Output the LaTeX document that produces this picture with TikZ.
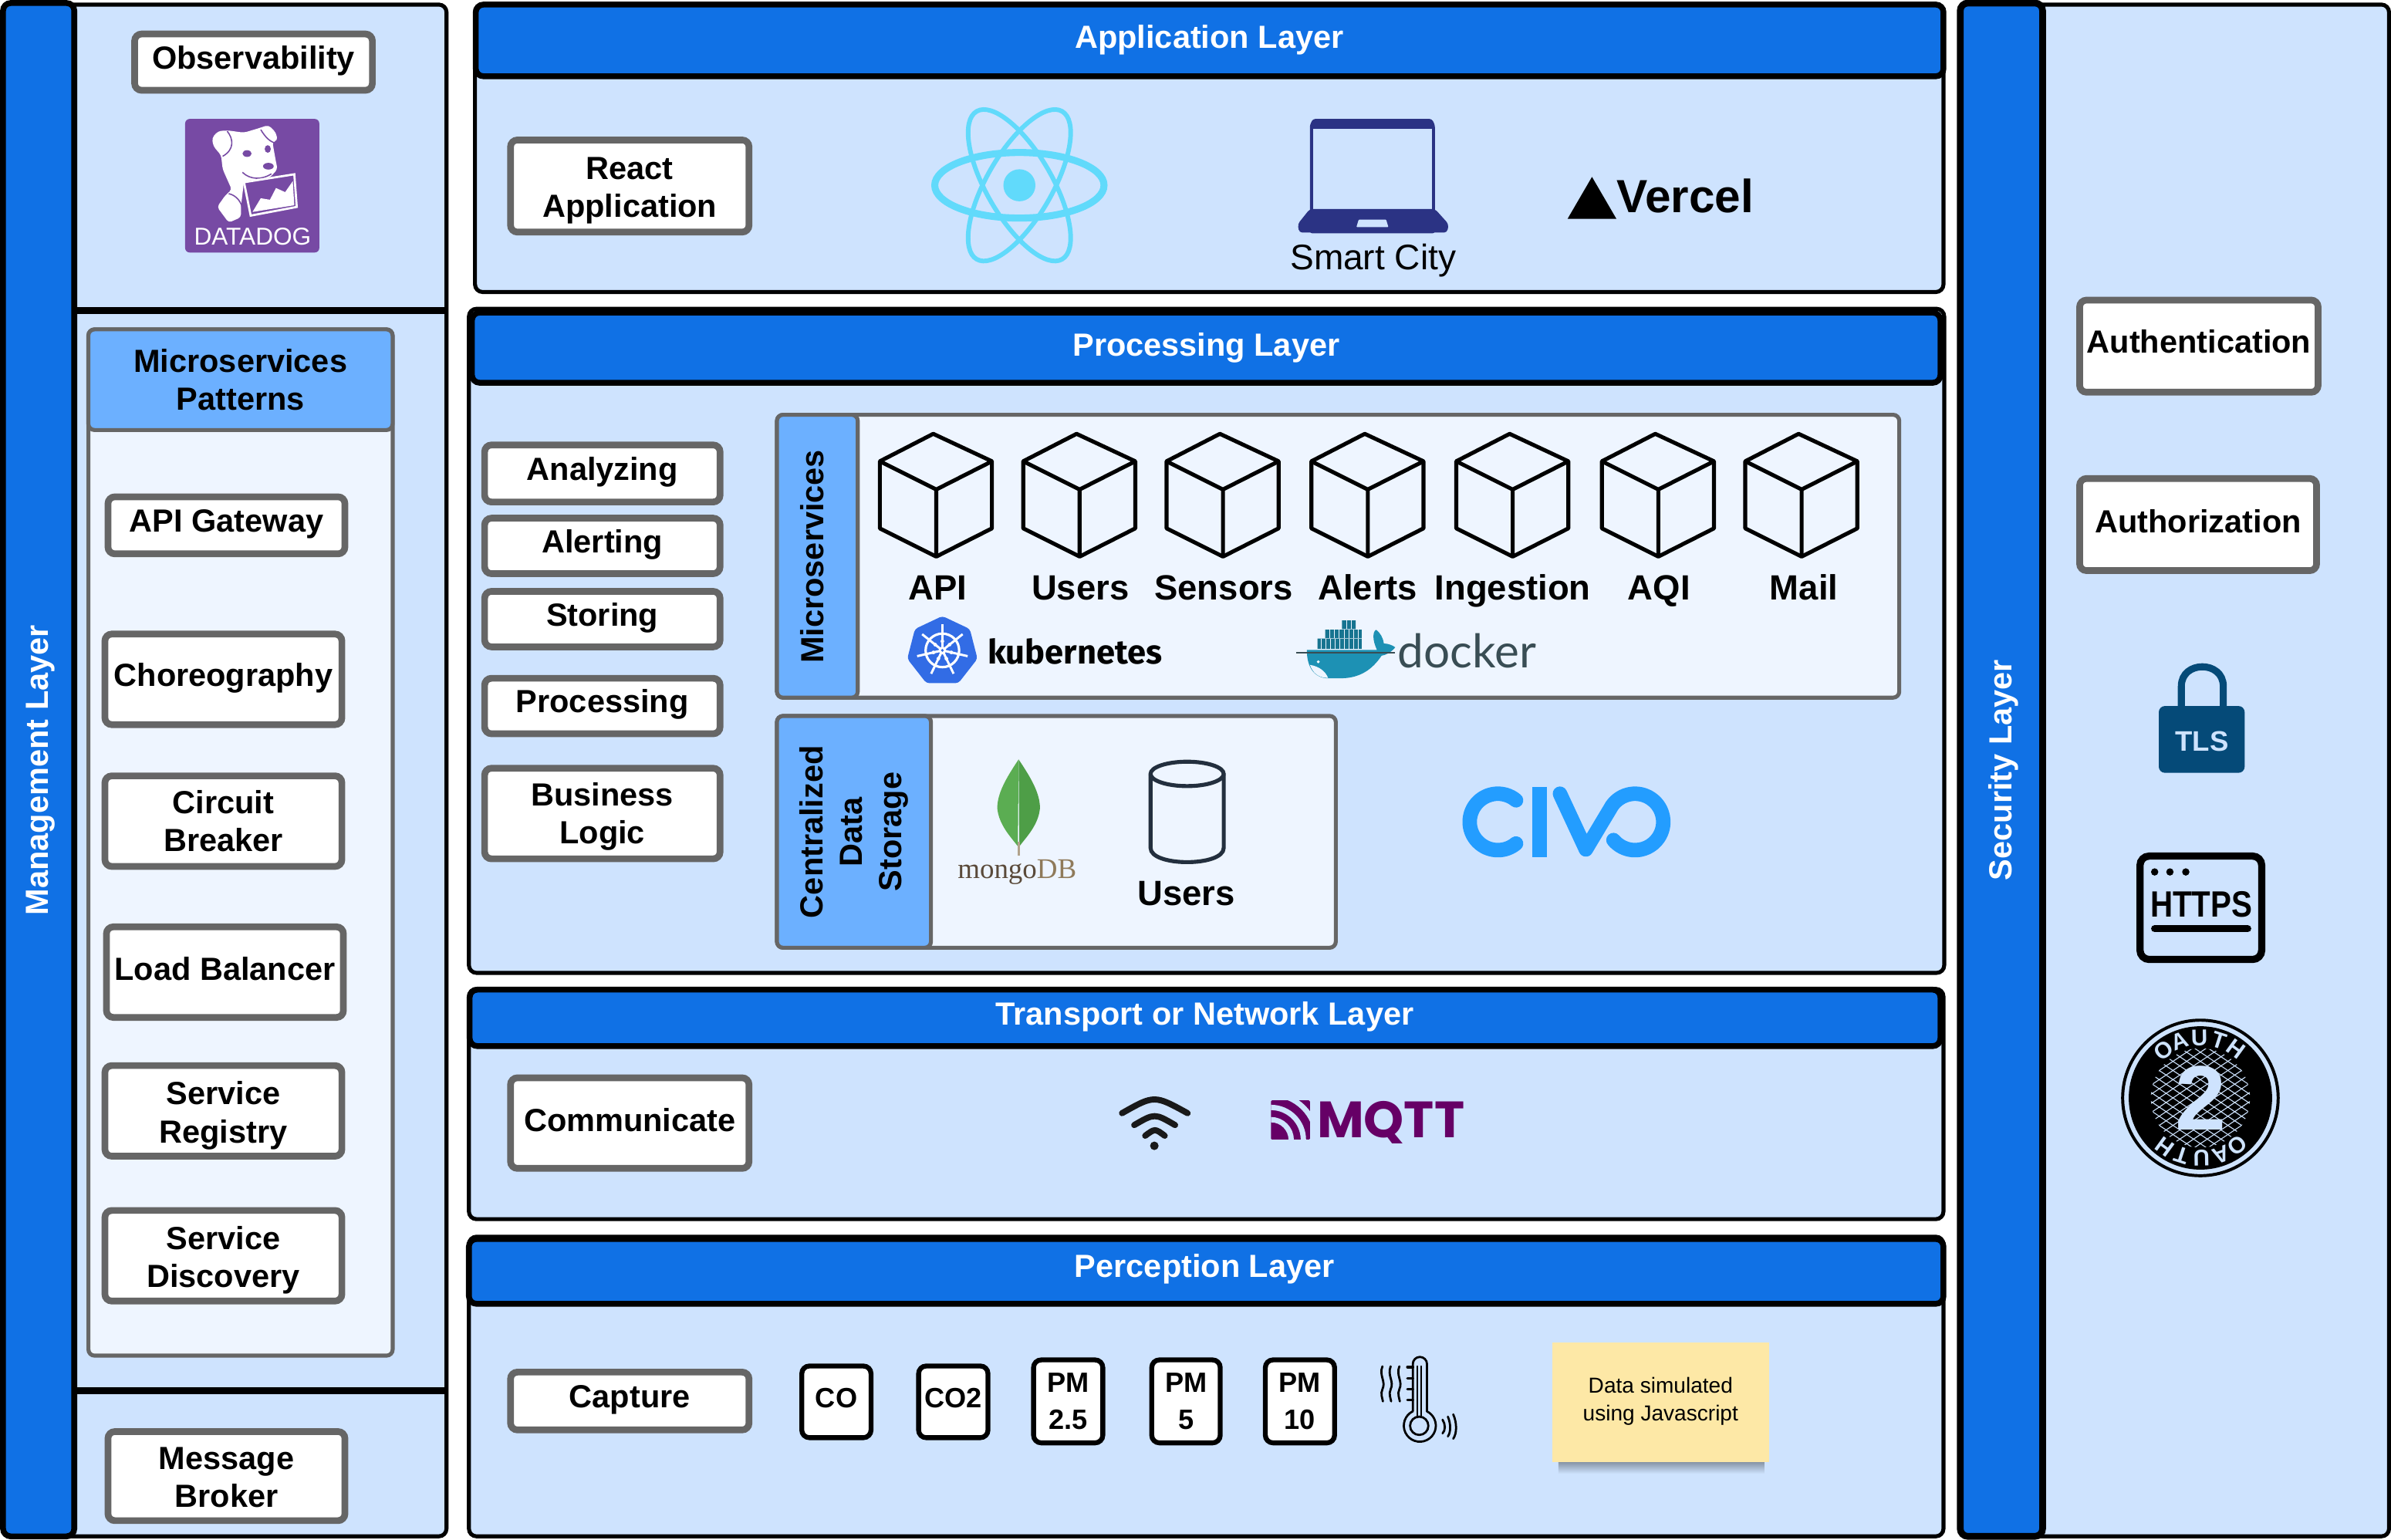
\documentclass[tikz,border=0pt]{standalone}
\usepackage{graphicx}
\usepackage{fontspec}
\setmainfont{Liberation Sans}
\newfontfamily\serifnm{Liberation Serif}
\newfontfamily\firanm{Fira Sans}
\newfontfamily\latonm{Lato}
\newfontfamily\popnm{Poppins}
\usetikzlibrary{calc}
\definecolor{bgblue}{HTML}{CEE3FE}
\definecolor{layerblue}{HTML}{1071E5}
\definecolor{headblue}{HTML}{6CB0FF}
\definecolor{paleblue}{HTML}{EEF5FF}
\definecolor{boxgray}{HTML}{666666}
\definecolor{ddpurple}{HTML}{774AA4}
\definecolor{reactc}{HTML}{61DAFB}
\definecolor{navy}{HTML}{2B3384}
\definecolor{k8s}{HTML}{326CE5}
\definecolor{civoc}{HTML}{239DFF}
\definecolor{mqttc}{HTML}{660066}
\definecolor{tlsc}{HTML}{054A78}
\definecolor{notec}{HTML}{FDE8A6}
\definecolor{whale}{HTML}{1D91B4}
\definecolor{dockertxt}{HTML}{394D54}
\definecolor{cylc}{HTML}{232F3E}
\definecolor{leafa}{HTML}{5BAD52}
\definecolor{leafb}{HTML}{4E9E47}
\definecolor{mongod}{HTML}{5A4A3A}
\definecolor{mongol}{HTML}{8F7A5A}
\tikzset{
  x=1pt,y=-1pt,
  panel/.style={draw=black,line width=2.6,fill=bgblue,rounded corners=5},
  bandh/.style={draw=black,line width=3.8,fill=layerblue,rounded corners=5},
  gbox/.style={draw=boxgray,line width=4.4,fill=white,rounded corners=4.5,inner sep=0pt},
  gtxt/.style={inner sep=0pt,align=center,font=\fontsize{21}{25}\selectfont\bfseries},
  sens/.style={draw=black,line width=3.2,fill=white,rounded corners=5,inner sep=0pt},
  stxt/.style={inner sep=0pt,align=center,font=\fontsize{18.3}{24.5}\selectfont\bfseries},
  ltitle/.style={text=white,inner sep=0pt,font=\fontsize{21}{25}\selectfont\bfseries},
  blab/.style={inner sep=0pt,align=center,font=\fontsize{21}{25}\selectfont\bfseries},
  clab/.style={inner sep=0pt,font=\fontsize{23}{25}\selectfont\bfseries},
  grp/.style={draw=boxgray,line width=2.6,fill=paleblue,rounded corners=4},
  grph/.style={draw=boxgray,line width=2.6,fill=headblue,rounded corners=4},
  cube/.style={draw=black,line width=2.6,line join=round},
  wifiarc/.style={draw=black!90,line width=4,line cap=round},
}
% [box style/text style]{name}{x1}{y1}{x2}{y2}{text offset}{text}
\newcommand{\gb}[8][gbox/gtxt]{%
  \pgfmathsetmacro{\bxw}{#5-#3-3.6}\pgfmathsetmacro{\bxh}{#6-#4-3.6}%
  \splitsty#1\relax
  \node[\stya,minimum width=\bxw pt,minimum height=\bxh pt] (#2) at ({(#3+#5)/2},{(#4+#6)/2}) {};
  \node[\styb] (#2t) at ({(#3+#5)/2},{(#4+#6)/2+#7}) {#8};}
\def\splitsty#1/#2\relax{\def\stya{#1}\def\styb{#2}}
\newcommand{\cubeat}[4]{%
  \draw[cube,shift={(#1,0)}] (-2,284.5)--(36.5,302.5)--(36.5,346.5)--(0,365)--(-37,346.5)--(-37,302.5)--cycle;
  \draw[cube,shift={(#1,0)}] (-37,302.5)--(0,321)--(36.5,302.5) (0,321)--(0,365);
  \node[clab,anchor=base] (#4) at (#2,393.3) {#3};}
\begin{document}
\begin{tikzpicture}
\useasboundingbox (0,0) rectangle (1568,1009.45);
\fill[white] (0,0) rectangle (1568,1009.45);
% ---------- management
\draw[panel] (2,3) rectangle (292.8,1007.5);
\draw[bandh] (2,2) rectangle (48.7,1007.5);
\draw[black,line width=4.4] (49,203.5)--(293,203.5) (49,912)--(293,912);
\node[ltitle,rotate=90] (mgmt) at (26.5,505) {Management Layer};
\gb{obs}{86.5}{20.5}{246}{61}{-1}{Observability}
% datadog
\fill[ddpurple,rounded corners=3] (121.4,78) rectangle (209.4,165.6);
\fill[white,rounded corners=2] (149,85.5)--(160,87)--(170,84)--(176,82)--(181,87)--(182,92.3)--(178.6,92.8)--(181,106.3)--(182,110.9)--(177,116.5)--(160,118.8)--(158,135.7)--(158,142.5)--(150,146)--(142.4,135.7)--(148,127.8)--(152,124.4)--(146,110.9)--(145,101.8)--(140,96)--(139,90.5)--(143,86)--cycle;
\draw[ddpurple,line width=.8] (149,86)..controls (153,91) and (154,98) .. (146,102.5) (171,85)..controls (174,90) and (177,93) .. (181,94);
\fill[ddpurple] (162,100.7) ellipse (3 and 2.2) (175.6,97.7) ellipse (2 and 2.5) (176,109) ellipse (3.5 and 2.2);
\draw[ddpurple,line width=.8] (159,113)..controls (164,118) and (172,118) .. (178,114);
\draw[ddpurple,line width=.8] (150,127)..controls (155,128) and (159,133) .. (159,138);
\draw[white,line width=1.4,fill=ddpurple] (160,119.5)--(193,114.3)--(194.6,135.7)--(164.4,141.4)--cycle;
\fill[white] (165.6,139)--(171,130)--(177,131)--(181,123.3)--(187,126)--(192,118.8)--(193,134.6)--cycle;
\node[text=white,inner sep=0pt,font=\fontsize{16}{16}\selectfont] (ddtext) at (165.7,155) {DATADOG};
% patterns
\draw[grp] (58,216) rectangle (257.5,889);
\node[grph,minimum width=199.5pt,minimum height=66pt,blab,draw=boxgray] (patt) at (157.7,249) {Microservices\\Patterns};
\gb{apig}{69}{324}{228}{365}{-1}{API Gateway}
\gb{chor}{67}{414}{226}{477}{-1}{Choreography}
\gb{circ}{67}{507}{226}{570}{0}{Circuit\\Breaker}
\gb{load}{68}{606}{227}{669}{-2}{Load Balancer}
\gb{reg}{67}{697}{226}{760}{3}{Service\\Registry}
\gb{disc}{67}{792}{226}{855}{3}{Service\\Discovery}
\gb{msg}{69}{937}{228}{999}{1}{Message\\Broker}
% ---------- application
\draw[panel] (311.5,3) rectangle (1274.5,191.5);
\draw[bandh] (312,3) rectangle (1274.5,50);
\node[ltitle] (app) at (793,26) {Application Layer};
\gb{react}{333}{90}{493}{154}{3}{React\\Application}
\draw[reactc,line width=4.6] (668.5,121.5) ellipse (55.5 and 21.5);
\foreach \a in {60,120}
  \draw[reactc,line width=3,rotate around={\a:(668.5,121.5)}] (668.5,121.5) ellipse (56 and 21.5);
\fill[reactc] (668.5,121.5) circle (10.5);
% laptop
\fill[navy,rounded corners=1.5] (859,153)--(859,82)--(861,78)--(939,78)--(941,82)--(941,153)--cycle;
\fill[bgblue] (861,84.5) rectangle (939,137);
\fill[navy,rounded corners=2] (859,137)--(941,137)--(950,147)--(949,152.5)--(852,152.5)--(851,147)--cycle;
\fill[bgblue,rounded corners=.5] (891,144)--(909,144)--(910.5,149)--(889.5,149)--cycle;
\node[inner sep=0pt,font=\fontsize{23.3}{25}\selectfont] (lap) at (900.5,171) {Smart City};
% vercel
\fill[black] (1044,116)--(1060,143.5)--(1028,143.5)--cycle;
\node[inner sep=0pt,anchor=west,font=\fontsize{30.5}{30}\selectfont\bfseries] (vercel) at (1060,128.5) {Vercel};
% ---------- processing
\draw[panel] (307.5,202.5) rectangle (1275,638);
\draw[bandh] (309.5,205) rectangle (1272.5,251);
\node[ltitle] (proc) at (791,228) {Processing Layer};
\gb{ana}{316}{290}{474}{331}{-1}{Analyzing}
\gb{ale}{316}{338}{474}{378}{-1}{Alerting}
\gb{sto}{316}{386}{474}{426}{-1}{Storing}
\gb{prc}{316}{443}{474}{483}{-1}{Processing}
\gb{bus}{316}{502}{474}{565}{2}{Business\\Logic}
% microservices group
\draw[grp] (509.5,272) rectangle (1245.5,457.5);
\draw[grph] (509.5,272) rectangle (562.5,457.5);
\node[blab,rotate=90] (ms) at (532.5,365) {Microservices};
\cubeat{614}{615}{API}{mapi}
\cubeat{708}{708.5}{Users}{musers}
\cubeat{802}{802.5}{Sensors}{msens}
\cubeat{897}{897}{Alerts}{malerts}
\cubeat{992}{992}{Ingestion}{mingest}
\cubeat{1087.5}{1088}{AQI}{maqi}
\cubeat{1181.5}{1183}{Mail}{mmail}
% kubernetes
\fill[k8s,rounded corners=2] (618,404)--(636,412.5)--(641,432)--(628.5,448)--(607.5,448)--(595,432)--(600,412.5)--cycle;
\draw[white,line width=1.6] (618,426.5) circle (11);
\foreach \a in {90,141.4,192.9,244.3,295.7,347.1,398.6}{
  \draw[white,line width=1.5] (618,426.5)--++({-\a}:17);
  \fill[white] ($(618,426.5)+({-\a}:6)$) circle (1.2);}
\fill[white] (618,426.5) circle (2.5);
\fill[k8s] (618,426.5) circle (1);
\node[inner sep=0pt,anchor=west,font=\fontsize{22}{25}\selectfont\firanm\bfseries] (kube) at (647.5,427) {kubernetes};
% docker
\fill[whale!80!black] (864,418.8) rectangle (893,425.4) (869,412.9) rectangle (893,418.4) (880,406.8) rectangle (889,412.6);
\foreach \xx in {866.5,869.5,872.5,875.5,878.5,881.5,884.5,887.5,890.5} \draw[paleblue,line width=.35] (\xx,418.8)--(\xx,425.4);
\foreach \xx in {872,875,878,881.5,884.5,887.5,890.5} \draw[paleblue,line width=.35] (\xx,412.9)--(\xx,418.4);
\foreach \xx in {883,886} \draw[paleblue,line width=.35] (\xx,406.8)--(\xx,412.6);
\fill[whale] (857,426.2)--(903,426.2)..controls (900,420) and (900,414) .. (902.5,413)..controls (905,415) and (907,418) .. (907.5,422)..controls (910,422) and (913,423) .. (915,424.5)..controls (912,428) and (909,429.5) .. (906,430)..controls (900,439) and (892,444.5) .. (880,444.8)--(870,444.8)..controls (860,444) and (857,435) .. (857,426.2)--cycle;
\fill[paleblue] (859,436)..controls (865,437) and (869,440) .. (871,444.6)..controls (864,444.5) and (861,441) .. (859,436)--cycle;
\draw[dockertxt,line width=.8] (850,428)--(915,428);
\fill[white] (864.5,434) circle (1);
\node[inner sep=0pt,anchor=west,text=dockertxt,font=\fontsize{30.5}{30}\selectfont\latonm] (dock) at (916.5,427) {docker};
% data storage group
\draw[grp] (509.5,469.5) rectangle (876,621.5);
\draw[grph] (509.5,469.5) rectangle (610.5,621.5);
\node[blab,rotate=90,font=\fontsize{21}{26}\selectfont\bfseries] (cds) at (560,545.5) {Centralized\\Data\\Storage};
% mongodb
\fill[leafa] (668,498)..controls (660,510) and (654,520) .. (654,530)..controls (655,541) and (663,549) .. (667.5,555)--(668,498)--cycle;
\fill[leafb] (668,498)..controls (676,510) and (682,520) .. (682,530)..controls (681,541) and (673,549) .. (668.5,555)--(668,498)--cycle;
\draw[mongol!70!white,line width=1.5] (668,552)--(668,561);
\node[inner sep=0pt,font=\fontsize{18.7}{20}\selectfont\serifnm] (mongo) at (667,572) {\textcolor{mongod}{mongo}\textcolor{mongol}{DB}};
% cylinder
\draw[cylc,line width=2.6] (754.5,508)--(754.5,556)..controls (754.5,568.5) and (802.5,568.5) .. (802.5,556)--(802.5,508);
\draw[cylc,line width=2.6] (778.5,507.5) ellipse (24 and 8);
\node[clab] (dbusers) at (778,586) {Users};
% civo
\begin{scope}[civoc,line width=9.5,line cap=round,line join=round]
\draw (982.3,539) ++(-50:18.5) arc[start angle=-50,end angle=-310,radius=18.5];
\draw[line cap=butt,rounded corners=1] (1009.5,516)--(1009.5,562);
\draw (1023,520.5)--(1040,557)--(1057.1,528.4) arc[start angle=-145,end angle=140,radius=18.5];
\end{scope}
% ---------- transport
\draw[panel] (307.5,648.5) rectangle (1274.5,799.5);
\draw[bandh] (308,649) rectangle (1272.5,686);
\node[ltitle] (trans) at (790,666.5) {Transport or Network Layer};
\gb{comm}{333}{705}{493}{768}{-2}{Communicate}
\draw[wifiarc] (735.8,730) .. controls (757,718) .. (778.8,730);
\draw[wifiarc] (743.8,737.8) .. controls (757.2,730) .. (770.6,737.8);
\draw[wifiarc] (751,744.8) .. controls (757.4,740) .. (763.8,744.8);
\fill[black!90] (757,751.4) circle (2.8);
% mqtt
\begin{scope}
\clip[rounded corners=.8] (833.5,721.5) rectangle (859,747.5);
\fill[mqttc] (833.5,721.5) rectangle (859,747.5);
\draw[bgblue,line width=3.5] (833.5,747.5) circle (13.25) (833.5,747.5) circle (21.25) (833.5,747.5) circle (30);
\end{scope}
\node[inner sep=0pt,anchor=west,text=mqttc,font=\fontsize{33.5}{34}\selectfont\popnm\bfseries] (mqtt) at (863.5,736) {MQTT};
% ---------- perception
\draw[panel] (307.5,811) rectangle (1274.5,1007.5);
\draw[bandh] (307.5,812.5) rectangle (1274.5,855);
\node[ltitle] (perc) at (790,832) {Perception Layer};
\gb{capt}{333}{898}{493}{939.5}{-1}{Capture}
\gb[sens/stxt]{co}{524}{894}{573}{944.6}{-2.3}{CO}
\gb[sens/stxt]{cotwo}{600.6}{894}{649.7}{944.6}{-2.3}{CO2}
\gb[sens/stxt]{pmb}{676}{890}{725}{948}{0}{PM\\2.5}
\gb[sens/stxt]{pmc}{753.5}{890}{802}{948}{0}{PM\\5}
\gb[sens/stxt]{pmd}{828}{890}{877}{948}{0}{PM\\10}
% thermometer
\begin{scope}[black,line width=1.4,line cap=round]
\draw (926.5,925.5)--(926.5,894.5) arc[start angle=180,end angle=360,radius=4.65]--(935.8,925.5);
\draw (926.5,925.5) arc[start angle=-116,end angle=-424,radius=10.5];
\draw (930.7,935) circle (6);
\draw (929.4,929.5)--(929.4,896) (932,929.5)--(932,896);
\foreach \yy in {896.5,904,911,918} \draw[line width=1.8] (923,\yy)--(926.5,\yy);
\foreach \xx in {906.6,912,917.7} \draw (\xx,896)..controls (\xx-2.5,902) and (\xx+2.5,906) .. (\xx,911)..controls (\xx-1.5,914) and (\xx,917) .. (\xx+.3,919);
\draw (946,931)..controls (948,934) and (948,938) .. (946,940);
\draw (949.5,929)..controls (951.5,934) and (951.5,939) .. (949.5,942);
\draw (953,927.5)..controls (955.5,933) and (955.5,940) .. (953,943.5);
\end{scope}
% note
\shade[top color=black!38!bgblue,bottom color=bgblue] (1022,958) rectangle (1157,966.5);
\fill[notec] (1018,880.4) rectangle (1160,958.8);
\node[inner sep=0pt,align=center,font=\fontsize{14.2}{18}\selectfont] (note) at (1089,919) {Data simulated\\using Javascript};
% ---------- security
\draw[panel] (1285.5,3) rectangle (1566.7,1007.5);
\draw[bandh,line width=4.4] (1285.5,2) rectangle (1339.5,1007.5);
\node[ltitle,rotate=90] (sec) at (1314,505) {Security Layer};
\gb{authn}{1362}{195}{1522}{259}{-3}{Authentication}
\gb{authz}{1362}{312}{1521}{376}{-2}{Authorization}
% tls
\draw[tlsc,line width=4.6] (1430.5,464)--(1430.5,450)..controls (1430.5,433) and (1458,433) .. (1458,450)--(1458,464);
\fill[tlsc,rounded corners=4] (1415.7,463) rectangle (1472,506.8);
\node[inner sep=0pt,text=bgblue,font=\fontsize{18.5}{18}\selectfont\bfseries] (tls) at (1444,486) {TLS};
% https
\draw[black,line width=4.7,rounded corners=6] (1403.4,561.4) rectangle (1483.2,629.2);
\fill[black] (1413,571.8) circle (2.4) (1423,571.8) circle (2.4) (1433.4,571.8) circle (2.4);
\node[inner sep=0pt,font=\fontsize{24}{24}\selectfont\bfseries] (https) at (1443.6,593) {\scalebox{.85}[1]{HTTPS}};
\draw[black,line width=4.7,line cap=round] (1413,609)--(1474,609);
% oauth
\draw[black,line width=2] (1443,720) circle (51);
\fill[black] (1443,720) circle (47);
\begin{scope}
\clip (1443,720) circle (32.5);
\foreach \dd in {-72,-63,...,72}{
  \draw[bgblue,line width=.55] (1443+\dd-60,720-40)--(1443+\dd+60,720+40);
  \draw[bgblue,line width=.55] (1443+\dd-60,720+40)--(1443+\dd+60,720-40);}
\end{scope}
\node[inner sep=0pt,text=bgblue,font=\fontsize{60}{60}\selectfont\bfseries] (two) at (1443,720) {2};
\foreach \ch/\ang in {O/128,A/110,U/91,T/72,H/54}{
  \node[inner sep=0pt,text=bgblue,rotate=\ang-90,font=\fontsize{15}{15}\selectfont\bfseries] at ({1443+39.5*cos(\ang)},{720-39.5*sin(\ang)}) {\ch};
  \node[inner sep=0pt,text=bgblue,rotate=\ang+90,font=\fontsize{15}{15}\selectfont\bfseries] at ({1443+39.5*cos(\ang+180)},{720-39.5*sin(\ang+180)}) {\ch};}
\end{tikzpicture}
\end{document}
